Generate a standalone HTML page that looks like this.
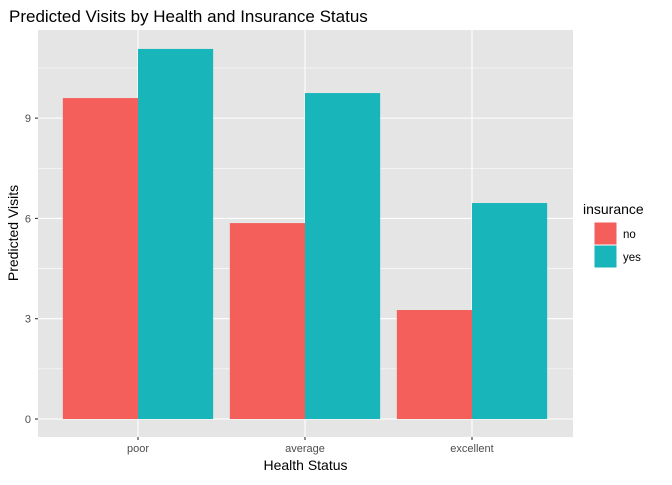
<!DOCTYPE html>
<html><head><meta charset="utf-8"><style>
body{margin:0;background:#fff;font-family:"Liberation Sans",Arial,sans-serif}
</style></head><body>
<svg id="chart" width="672" height="480" xmlns="http://www.w3.org/2000/svg" font-family="Liberation Sans, Arial, sans-serif">
<rect width="672" height="480" fill="#fff"/>
<text x="9" y="22" font-size="17" fill="#000">Predicted Visits by Health and Insurance Status</text>
<rect x="38" y="30" width="535" height="407" fill="#e5e5e5"/>
<g id="grid"></g>
<g id="bars"></g>
<g id="axes"></g>
<text x="305.5" y="470" font-size="14" text-anchor="middle" fill="#000">Health Status</text>
<text transform="translate(18,233) rotate(-90)" font-size="14" text-anchor="middle" fill="#000">Predicted Visits</text>
<g>
<text x="583" y="214" font-size="14" fill="#000">insurance</text>
<rect x="594" y="222" width="23" height="23" fill="#f45f5b" stroke="#fff"/>
<rect x="594" y="245" width="23" height="23" fill="#18b5ba" stroke="#fff"/>
<text x="623" y="238" font-size="11.5" fill="#000">no</text>
<text x="623" y="261" font-size="11.5" fill="#000">yes</text>
</g>
</svg>
<script>
const categories=["poor","average","excellent"];
const noValues=[9.6,5.86,3.26];
const yesValues=[11.07,9.75,6.46];
const yTicks=[0,3,6,9];
const yMinor=[1.5,4.5,7.5,10.5];
const NS="http://www.w3.org/2000/svg";
const y=v=>419-v*33.43;
const x=i=>138+i*167;
const bw=75.15;
function mk(tag,attrs,parent){const e=document.createElementNS(NS,tag);for(const k in attrs)e.setAttribute(k,attrs[k]);document.getElementById(parent).appendChild(e);return e;}
yMinor.forEach(v=>{const l=mk("line",{x1:38,x2:573,y1:y(v),y2:y(v),stroke:"#fff","stroke-width":0.55},"grid");

});
yTicks.forEach(v=>{const l=mk("line",{x1:38,x2:573,y1:y(v),y2:y(v),stroke:"#fff","stroke-width":1.1},"grid");


const t=mk("text",{x:31,y:y(v)+4,"font-size":11,"text-anchor":"end",fill:"#4d4d4d"},"axes");t.textContent=v;


const tk=mk("line",{x1:35,x2:38,y1:y(v),y2:y(v),stroke:"#333","stroke-width":1.1},"axes");

});
categories.forEach((c,i)=>{const l=mk("line",{x1:x(i),x2:x(i),y1:30,y2:437,stroke:"#fff","stroke-width":1.1},"grid");


const b1=mk("rect",{x:x(i)-bw,y:y(noValues[i]),width:bw,height:y(0)-y(noValues[i]),fill:"#f45f5b"},"bars");


const b2=mk("rect",{x:x(i),y:y(yesValues[i]),width:bw,height:y(0)-y(yesValues[i]),fill:"#18b5ba"},"bars");


const tk=mk("line",{x1:x(i),x2:x(i),y1:437,y2:440,stroke:"#333","stroke-width":1.1},"axes");


const t=mk("text",{x:x(i),y:452,"font-size":11,"text-anchor":"middle",fill:"#4d4d4d"},"axes");t.textContent=c;

});
</script>
</body></html>
